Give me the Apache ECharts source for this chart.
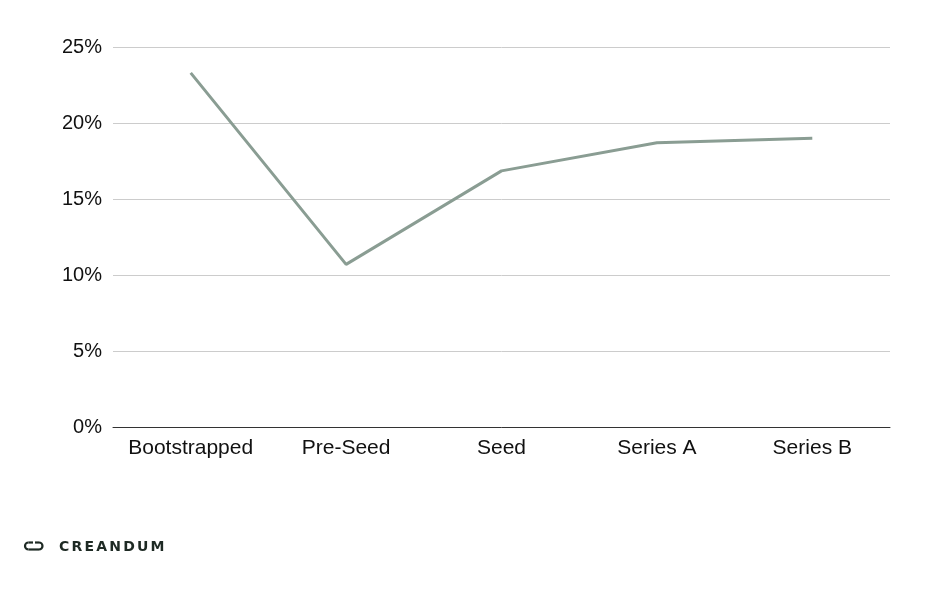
<!DOCTYPE html>
<html>
<head>
<meta charset="utf-8">
<script src="https://cdn.jsdelivr.net/npm/echarts@6/dist/echarts.min.js"></script>
<style>
html,body{margin:0;padding:0;background:#fff;}
#wrap{position:relative;width:928px;height:590px;}
#c{width:928px;height:590px;}
#brand{position:absolute;left:59px;top:538px;font:bold 14px "DejaVu Sans",sans-serif;letter-spacing:2.2px;color:#1e2a24;line-height:16px;white-space:nowrap;}
</style>
</head>
<body>
<div id="wrap">
<div id="c"></div>
<div id="brand">CREANDUM</div>
</div>
<script>
const categories = ['Bootstrapped', 'Pre-Seed', 'Seed', 'Series A', 'Series B'];
const values = [23.3, 10.7, 16.85, 18.7, 19.0];
const yTicks = [0, 5, 10, 15, 20, 25];

const chart = echarts.init(document.getElementById('c'), null, {renderer: 'canvas'});
const iconStyle = {stroke: '#1e2a24', lineWidth: 2.2, fill: null};
chart.setOption({
  animation: false,
  backgroundColor: '#ffffff',
  grid: {left: 113, right: 38, top: 47, bottom: 163, containLabel: false},
  xAxis: {
    type: 'category',
    data: categories,
    boundaryGap: true,
    axisLine: {show: true, lineStyle: {color: '#333333', width: 1}},
    axisTick: {show: false},
    axisLabel: {interval: 0, hideOverlap: false, color: '#111111', fontSize: 21, fontFamily: 'Liberation Sans, Arial, sans-serif', margin: 11}
  },
  yAxis: {
    type: 'value',
    min: yTicks[0],
    max: yTicks[yTicks.length - 1],
    interval: 5,
    axisLine: {show: false},
    axisTick: {show: false},
    splitLine: {lineStyle: {color: '#cccccc', width: 1}},
    axisLabel: {color: '#111111', fontSize: 20, fontFamily: 'Liberation Sans, Arial, sans-serif', margin: 11, padding: [3, 0, 0, 0], formatter: v => v + '%'}
  },
  series: [{
    type: 'line',
    data: values,
    symbol: 'none',
    lineStyle: {color: '#8a9d93', width: 3},
    itemStyle: {color: '#8a9d93'}
  }],
  graphic: [
    {type: 'arc', shape: {cx: 28.5, cy: 546, r: 3.5, startAngle: Math.PI / 2, endAngle: Math.PI * 1.5, clockwise: true}, style: iconStyle},
    {type: 'line', shape: {x1: 28.5, y1: 542.5, x2: 33, y2: 542.5}, style: iconStyle},
    {type: 'line', shape: {x1: 28.5, y1: 549.5, x2: 39, y2: 549.5}, style: iconStyle},
    {type: 'arc', shape: {cx: 39, cy: 546, r: 3.5, startAngle: -Math.PI / 2, endAngle: Math.PI / 2, clockwise: true}, style: iconStyle},
    {type: 'line', shape: {x1: 39, y1: 542.5, x2: 35, y2: 542.5}, style: iconStyle}
  ]
});
</script>
</body>
</html>
